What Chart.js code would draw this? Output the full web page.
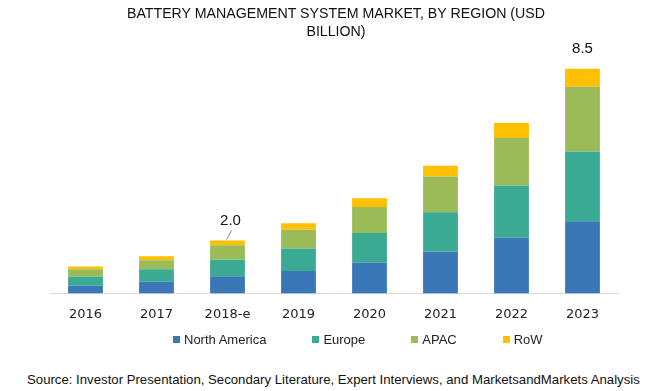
<!DOCTYPE html>
<html>
<head>
<meta charset="utf-8">
<script src="https://cdn.jsdelivr.net/npm/chart.js@4.4.1/dist/chart.umd.min.js"></script>
<style>
  body { margin: 0; background: #fff; }
  #wrap { position: relative; width: 650px; height: 391px; overflow: hidden; font-family: "Liberation Sans", Arial, sans-serif; }
  #title { position: absolute; top: 4px; left: 0; width: 672px; text-align: center; font-size: 14.2px; line-height: 18px; color: #111; }
  #chartBox { position: absolute; top: 0; left: 0; width: 650px; height: 341px; }
  #legend { position: absolute; top: 332px; left: 173px; display: flex; font-size: 13px; color: #222; white-space: nowrap; }
  #legend .item { display: flex; align-items: center; margin-right: 46px; }
  #legend .box { width: 7px; height: 7px; margin-right: 4px; }
  #source { position: absolute; top: 372px; left: 27px; font-size: 13.2px; color: #111; white-space: nowrap; }
</style>
</head>
<body>
<div id="wrap">
  <div id="chartBox"><canvas id="bmsChart" width="650" height="341"></canvas></div>
  <div id="title">BATTERY MANAGEMENT SYSTEM MARKET, BY REGION (USD<br>BILLION)</div>
  <div id="legend"></div>
  <div id="source">Source: Investor Presentation, Secondary Literature, Expert Interviews, and MarketsandMarkets Analysis</div>
</div>
<script>
// data (USD billion)
const years = ['2016', '2017', '2018-e', '2019', '2020', '2021', '2022', '2023'];
const northAmerica = [0.29, 0.44, 0.65, 0.85, 1.17, 1.58, 2.11, 2.73];
const europe = [0.34, 0.47, 0.62, 0.85, 1.12, 1.49, 1.97, 2.64];
const apac = [0.28, 0.34, 0.55, 0.71, 0.98, 1.35, 1.80, 2.45];
const rowRegion = [0.11, 0.16, 0.18, 0.24, 0.33, 0.41, 0.57, 0.68];
const regionNames = ['North America', 'Europe', 'APAC', 'RoW'];
const regionColors = ['#3a77b6', '#3aaa93', '#9bbb59', '#ffc000'];
const labeledYears = ['2018-e', '2023'];

const seriesList = [northAmerica, europe, apac, rowRegion];

// totals on top of some bars
const totalLabels = {
  id: 'totalLabels',
  afterDatasetsDraw(chart) {
    const ctx = chart.ctx;
    const xScale = chart.scales.x;
    const yScale = chart.scales.y;
    ctx.save();
    ctx.font = '15px "Liberation Sans", Arial, sans-serif';
    ctx.fillStyle = '#111';
    ctx.textAlign = 'center';
    ctx.textBaseline = 'middle';
    labeledYears.forEach(yr => {
      const i = years.indexOf(yr);
      const total = seriesList.reduce((sum, s) => sum + s[i], 0);
      const cx = xScale.getPixelForValue(i);
      const top = yScale.getPixelForValue(total);
      if (i < years.length - 1) {
        // small leader line like the original
        ctx.strokeStyle = '#888';
        ctx.lineWidth = 1;
        ctx.beginPath();
        ctx.moveTo(cx + 4, top - 10);
        ctx.lineTo(cx - 1, top - 1);
        ctx.stroke();
        ctx.fillText(total.toFixed(1), cx + 3, top - 20);
      } else {
        ctx.fillText(total.toFixed(1), cx, top - 20);
      }
    });
    ctx.restore();
  }
};

new Chart(document.getElementById('bmsChart'), {
  type: 'bar',
  data: {
    labels: years,
    datasets: seriesList.map((s, k) => ({
      label: regionNames[k],
      data: s,
      backgroundColor: regionColors[k],
      borderWidth: 0,
      barPercentage: 0.49,
      categoryPercentage: 1
    }))
  },
  options: {
    responsive: false,
    animation: false,
    layout: { padding: { left: 50, right: 32, top: 45, bottom: 6 } },
    plugins: {
      legend: { display: false },
      title: { display: false },
      tooltip: { enabled: false }
    },
    scales: {
      x: {
        stacked: true,
        grid: { display: false, drawTicks: false },
        border: { display: true, color: '#d9d9d9', width: 1 },
        ticks: { color: '#222', padding: 13, font: { family: 'DejaVu Sans', size: 13 } }
      },
      y: {
        stacked: true,
        display: false,
        min: 0,
        max: 9.4
      }
    }
  },
  plugins: [totalLabels]
});

// legend below the chart
const legendEl = document.getElementById('legend');
regionNames.forEach((name, k) => {
  const item = document.createElement('div');
  item.className = 'item';
  item.innerHTML = '<span class="box" style="background:' + regionColors[k] + '"></span>' + name;
  legendEl.appendChild(item);
});
</script>
</body>
</html>
